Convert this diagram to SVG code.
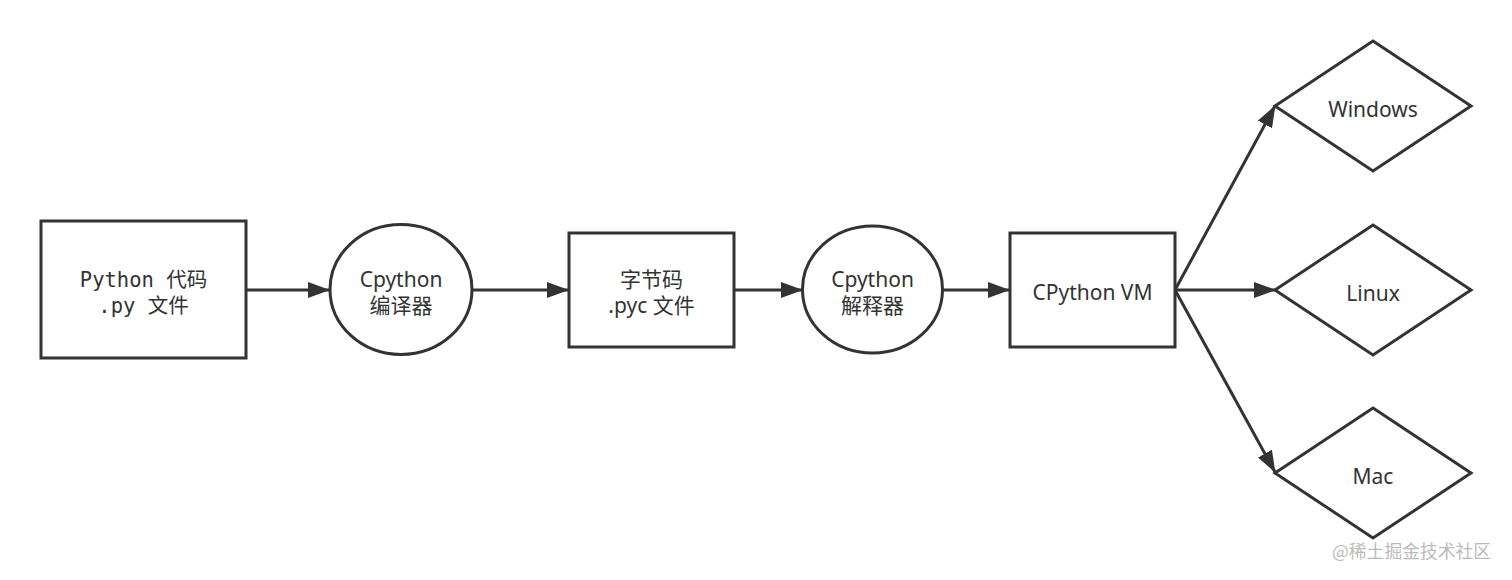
<svg xmlns="http://www.w3.org/2000/svg" width="1512" height="580" viewBox="0 0 1512 580">
<style>
.shape{fill:#fff;stroke:#333;stroke-width:3}
.edge{fill:none;stroke:#333;stroke-width:3}
.t{font-family:"Noto Sans","Noto Sans CJK SC",sans-serif;font-size:21px;fill:#333;text-anchor:middle}
.mono{font-family:"DejaVu Sans Mono","Noto Sans CJK SC",monospace;font-size:20.5px;fill:#333;text-anchor:middle}
.wm{font-family:"Noto Sans CJK SC",sans-serif;font-size:17.8px;fill:#bbb}
</style>
<defs>
<marker id="arr" viewBox="0 0 22 16" refX="21" refY="8" markerWidth="22" markerHeight="16" markerUnits="userSpaceOnUse" orient="auto">
<path d="M0,0 L22,8 L0,16 Z" fill="#333"/>
</marker>
</defs>
<rect width="1512" height="580" fill="#fff"/>
<g id="connectors">
<line class="edge" x1="246" y1="290" x2="329" y2="290" marker-end="url(#arr)"/>
<line class="edge" x1="472" y1="290" x2="568" y2="290" marker-end="url(#arr)"/>
<line class="edge" x1="734" y1="290" x2="802" y2="290" marker-end="url(#arr)"/>
<line class="edge" x1="942" y1="290" x2="1009" y2="290" marker-end="url(#arr)"/>
<line class="edge" x1="1175" y1="290" x2="1275" y2="106" marker-end="url(#arr)"/>
<line class="edge" x1="1175" y1="290" x2="1275" y2="290" marker-end="url(#arr)"/>
<line class="edge" x1="1175" y1="290" x2="1275" y2="472" marker-end="url(#arr)"/>
</g>
<g id="node-source">
<rect class="shape" x="41" y="221" width="205" height="137"/>
<text class="mono" x="143.5" y="287">Python 代码</text>
<text class="mono" x="143.5" y="313">.py 文件</text>
</g>
<g id="node-compiler">
<ellipse class="shape" cx="401" cy="289.5" rx="71" ry="65"/>
<text class="t" x="401" y="287">Cpython</text>
<text class="t" x="401" y="313">编译器</text>
</g>
<g id="node-bytecode">
<rect class="shape" x="569" y="233" width="165" height="114"/>
<text class="t" x="651.5" y="287">字节码</text>
<text class="t" x="651.5" y="313">.pyc 文件</text>
</g>
<g id="node-interpreter">
<ellipse class="shape" cx="872.5" cy="289.5" rx="70" ry="63.5"/>
<text class="t" x="872.5" y="287">Cpython</text>
<text class="t" x="872.5" y="313">解释器</text>
</g>
<g id="node-vm">
<rect class="shape" x="1010" y="233" width="165" height="114"/>
<text class="t" x="1092.5" y="300">CPython VM</text>
</g>
<g id="node-windows">
<polygon class="shape" points="1373,41 1471,106 1373,171 1275,106"/>
<text class="t" x="1373" y="117">Windows</text>
</g>
<g id="node-linux">
<polygon class="shape" points="1373,225 1471,290 1373,355 1275,290"/>
<text class="t" x="1373" y="301">Linux</text>
</g>
<g id="node-mac">
<polygon class="shape" points="1373,408 1471,473 1373,538 1275,473"/>
<text class="t" x="1373" y="484">Mac</text>
</g>
<text class="wm" x="1332" y="558">@稀土掘金技术社区</text>
</svg>
